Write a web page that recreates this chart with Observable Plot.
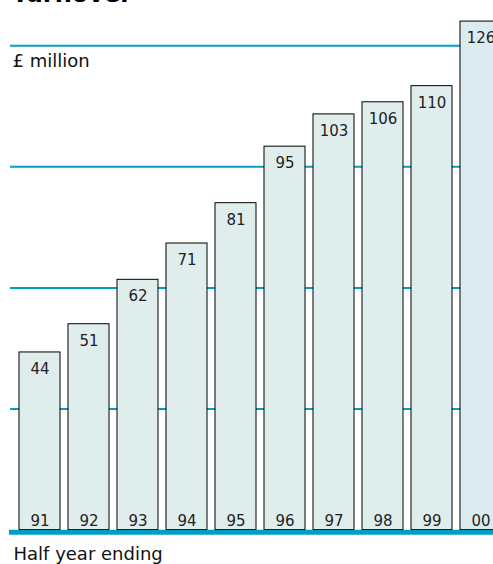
<!DOCTYPE html>
<html>
<head>
<meta charset="utf-8">
<script src="https://cdn.jsdelivr.net/npm/d3@7"></script>
<script src="https://cdn.jsdelivr.net/npm/@observablehq/plot@0.6"></script>
<style>
  html, body { margin: 0; padding: 0; background: #fff; }
  #wrap { position: relative; width: 493px; height: 564px; overflow: hidden; font-family: "DejaVu Sans", Verdana, sans-serif; }
  #title { position: absolute; left: 12px; top: -20px; font-size: 24px; font-weight: bold; line-height: 28px; color: #000; white-space: nowrap; }
  #wrap svg { position: absolute; left: 0; top: 0; }
</style>
</head>
<body>
<div id="wrap">
  <div id="title">Turnover</div>
</div>
<script>
const years = ["91", "92", "93", "94", "95", "96", "97", "98", "99", "00"];
const turnover = [44, 51, 62, 71, 81, 95, 103, 106, 110, 126];
const gridValues = [30, 60, 90, 120];
const unitLabel = ["£ million"];
const xLabel = ["Half year ending"];

const data = years.map((y, i) => ({year: y, value: turnover[i], last: i === years.length - 1}));

const teal = "#009fbf";
const font = "DejaVu Sans, Verdana, sans-serif";

const chart = Plot.plot({
  width: 493,
  height: 564,
  marginTop: 0,
  marginBottom: 0,
  marginLeft: 10,
  marginRight: 0,
  style: {fontFamily: font, fontSize: "15px", background: "transparent", overflow: "hidden"},
  x: {domain: years, range: [15.3, 505.3], paddingInner: 0.163, paddingOuter: 0.08, axis: null},
  y: {domain: [0, 120], range: [529.5, 45.3], axis: null},
  marks: [
    Plot.ruleY(gridValues, {stroke: teal, strokeWidth: 2}),
    Plot.barY(data, {x: "year", y: "value", fill: d => d.last ? "#dcebf0" : "#e0eded", stroke: "#000", strokeWidth: 1}),
    Plot.text(data, {x: "year", y: "value", text: d => String(d.value), lineAnchor: "top", dy: 11, fill: "#222", fontSize: 15}),
    Plot.text(data, {x: "year", y: 0, text: "year", lineAnchor: "bottom", dy: -4, fill: "#222", fontSize: 15}),
    Plot.ruleY([0], {stroke: teal, strokeWidth: 5, dy: 2.3, insetLeft: -1}),
    Plot.text(unitLabel, {frameAnchor: "top-left", text: d => d, textAnchor: "start", lineAnchor: "top", dx: 2, dy: 54, fill: "#111", fontSize: 18}),
    Plot.text(xLabel, {frameAnchor: "bottom-left", text: d => d, textAnchor: "start", lineAnchor: "bottom", dx: 3, dy: -5, fill: "#111", fontSize: 18})
  ]
});
document.getElementById("wrap").appendChild(chart);
</script>
</body>
</html>
